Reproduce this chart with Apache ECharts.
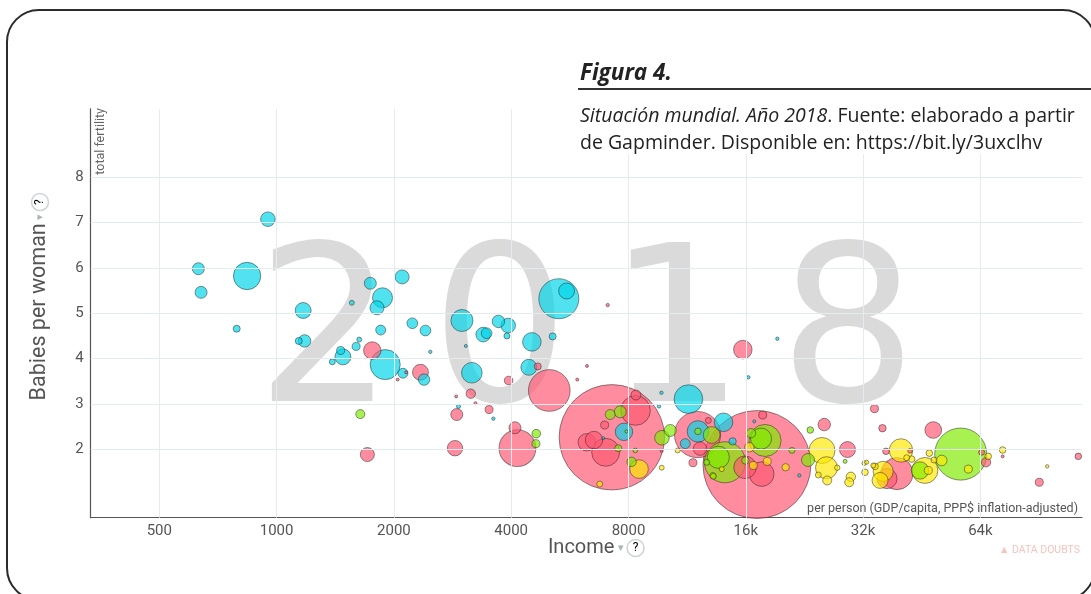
<!DOCTYPE html>
<html><head><meta charset="utf-8">
<script src="https://cdn.jsdelivr.net/npm/echarts@6/dist/echarts.min.js"></script>
<style>html,body{margin:0;padding:0;background:#fff}#c{width:1091px;height:594px}</style>
</head><body><div id="c"></div>
<script>
// ---- axis ticks ----
const xTickValues = [500, 1000, 2000, 4000, 8000, 16000, 32000, 64000];
const xTickLabels = ['500', '1000', '2000', '4000', '8000', '16k', '32k', '64k'];
const yTickValues = [2, 3, 4, 5, 6, 7, 8];
const yearLabel = '2018';

// ---- Africa (cyan) : income, babies per woman, population (millions) ----
const africaIncome = [950, 630, 840, 640, 790, 1170, 1180, 1140, 1560, 1740, 1870, 1810, 2100, 2230, 2410, 2480, 1850, 1630, 1600, 1900, 1480, 1460, 1390, 2110, 2390, 2990, 3710, 3930, 3390, 3460, 3900, 3060, 4520, 5110, 3170, 4440, 2930, 3600, 5300, 5550, 7790, 6890, 11400, 9720, 9580, 12060, 14030, 11190, 14800, 16820, 19280, 16240, 21950];
const africaFertility = [7.07, 5.98, 5.82, 5.46, 4.66, 5.06, 4.39, 4.39, 5.23, 5.66, 5.34, 5.12, 5.80, 4.78, 4.62, 4.15, 4.63, 4.42, 4.27, 3.87, 4.04, 4.18, 3.93, 3.68, 3.54, 4.84, 4.82, 4.73, 4.53, 4.56, 4.50, 4.28, 4.37, 4.49, 3.69, 3.81, 2.95, 2.68, 5.32, 5.49, 2.39, 2.25, 3.11, 3.25, 2.95, 2.40, 2.60, 2.13, 2.18, 2.62, 4.44, 3.59, 1.43];
const africaPopulation = [26, 17.5, 91, 17.5, 6, 31, 19, 6, 3, 17.5, 49, 24, 24, 14, 14, 1.4, 12, 3, 7.8, 110, 31, 7.8, 4.4, 12, 16, 59, 19, 26, 26, 14, 4.4, 1, 42, 6, 52, 31, 2, 1.4, 195, 31, 37, 1, 100, 1.4, 1.4, 56, 42, 12, 6.7, 1.1, 1.4, 1.4, 1.4];

// ---- Asia (pink) ----
const asiaIncome = [17090, 7250, 1760, 2340, 2150, 2045, 1710, 2870, 7075, 6260, 4680, 3940, 5910, 5010, 3150, 2890, 3240, 3510, 2900, 4090, 4150, 8340, 8360, 6950, 6250, 6525, 6990, 9735, 12030, 12210, 12820, 11710, 15720, 17680, 15930, 17580, 25440, 29180, 34230, 35880, 36630, 39100, 36860, 48440, 42220, 64480, 66170, 73000, 90640, 114150];
const asiaFertility = [1.67, 2.27, 4.18, 3.70, 3.70, 3.54, 1.89, 2.03, 5.18, 3.84, 3.83, 3.52, 3.54, 3.30, 3.23, 3.17, 3.02, 2.88, 2.77, 2.48, 2.03, 2.86, 3.20, 2.54, 2.16, 2.21, 1.94, 1.97, 2.33, 2.02, 2.64, 1.71, 4.20, 2.76, 1.61, 1.46, 2.55, 2.00, 2.90, 2.47, 1.96, 1.47, 1.36, 2.43, 1.97, 1.94, 1.72, 1.85, 1.28, 1.85];
const asiaPopulation = [1420, 1353, 37, 31, 1, 1, 24, 29, 1.4, 1, 6, 9, 1, 212, 10.8, 1, 1, 7.8, 17.5, 17.5, 165, 107, 12, 7.8, 37, 37, 95, 1, 260, 22, 4.4, 7.8, 42, 7.8, 62, 74, 19, 31, 7.8, 6.7, 5.3, 125, 49, 34, 2.6, 4.4, 10.8, 1, 7.8, 5.3];

// ---- Europe (yellow) ----
const europeIncome = [8515, 6750, 9735, 10700, 16340, 16730, 18160, 20250, 13880, 25100, 25780, 25890, 24560, 27470, 29760, 29480, 32220, 32690, 32360, 34330, 36030, 35370, 40030, 46110, 47040, 50920, 48640, 41410, 42640, 47320, 59600, 67040, 73000, 95000, 33990, 13160];
const europeFertility = [1.57, 1.24, 1.60, 1.98, 2.05, 1.65, 1.74, 1.61, 1.57, 1.98, 1.60, 1.32, 1.44, 1.60, 1.40, 1.28, 1.70, 1.72, 1.50, 1.63, 1.52, 1.32, 1.98, 1.54, 1.54, 1.76, 1.77, 1.82, 1.79, 1.92, 1.57, 1.85, 1.99, 1.63, 1.65, 1.43];
const europePopulation = [42, 4.4, 3, 3, 10.8, 7.8, 7.8, 6.7, 3, 82, 59, 9.9, 4.4, 3.5, 10.8, 9.9, 2.6, 2, 5.3, 5.3, 49, 31, 67, 82, 7.8, 13.7, 4.4, 4.4, 5.3, 5.3, 7.8, 5.3, 5.3, 1.4, 3, 4.4];

// ---- Americas (green) ----
const americasIncome = [1640, 4640, 4630, 7180, 7620, 7530, 8330, 8150, 7900, 9750, 10240, 12060, 13080, 14150, 13600, 17930, 17510, 16500, 15960, 12700, 13210, 21020, 23110, 23420, 28770, 44790, 56970];
const americasFertility = [2.78, 2.35, 2.13, 2.77, 2.83, 2.03, 1.98, 1.73, 2.40, 2.26, 2.42, 2.40, 2.32, 1.72, 1.83, 2.20, 2.24, 2.36, 1.76, 1.72, 1.41, 1.98, 1.77, 2.43, 1.74, 1.54, 1.90];
const americasPopulation = [9.9, 9, 7.8, 12, 17.5, 6, 2.6, 10.8, 1, 26, 17.5, 5.3, 34, 205, 60, 125, 54, 10.8, 6.7, 4.4, 4.4, 4.4, 20.6, 5.3, 2, 37, 330];

const regions = [
  {color: 'rgba(0,213,233,0.85)', inc: africaIncome, fert: africaFertility, pop: africaPopulation},
  {color: 'rgba(255,88,114,0.85)', inc: asiaIncome, fert: asiaFertility, pop: asiaPopulation},
  {color: 'rgba(255,231,0,0.85)', inc: europeIncome, fert: europeFertility, pop: europePopulation},
  {color: 'rgba(127,235,0,0.85)', inc: americasIncome, fert: americasFertility, pop: americasPopulation}
];
const bubbles = [];
regions.forEach(r => r.inc.forEach((v, i) => bubbles.push({value: [v, r.fert[i], r.pop[i]], itemStyle: {color: r.color}})));
bubbles.sort((a, b) => b.value[2] - a.value[2]);

const tickFont = {color: '#555', fontSize: 15, fontFamily: 'Roboto'};
const gridLines = [];
xTickValues.forEach((v, i) => gridLines.push({xAxis: v, name: xTickLabels[i],
  label: Object.assign({show: true, position: 'start', distance: 6, formatter: '{b}'}, tickFont)}));
yTickValues.forEach(v => gridLines.push({yAxis: v, name: String(v),
  label: Object.assign({show: true, position: 'start', distance: 7, formatter: '{b}'}, tickFont)}));

const qBox = {width: 17, height: 17, lineHeight: 17, borderRadius: 9, borderWidth: 1.5, borderColor: '#cdd3d6', color: '#c0c6c9', fontSize: 12, align: 'center', fontFamily: 'Roboto'};
const digitX = [325, 500, 676, 848];

const chart = echarts.init(document.getElementById('c'));
chart.setOption({
  animation: false,
  grid: {left: 90.7, right: 9, top: 108.8, bottom: 76.3},
  xAxis: {type: 'log', logBase: 2, min: 333.4, max: 116660,
    axisLine: {onZero: false, lineStyle: {color: '#555', width: 1.2}},
    axisTick: {show: false}, axisLabel: {show: false}, splitLine: {show: false}},
  yAxis: {type: 'value', min: 0.5, max: 9.5,
    axisLine: {show: true, onZero: false, lineStyle: {color: '#555', width: 1.2}},
    axisTick: {show: false}, axisLabel: {show: false}, splitLine: {show: false}},
  series: [
    {type: 'scatter', data: [], z: 1, silent: true,
      markLine: {silent: true, symbol: ['none', 'none'], animation: false,
        lineStyle: {color: '#e5ecef', type: 'solid', width: 1}, emphasis: {disabled: true},
        data: gridLines}},
    {type: 'scatter', z: 3, data: bubbles,
      symbolSize: v => Math.max(3, 2 * 1.433 * Math.sqrt(v[2])),
      itemStyle: {borderColor: 'rgba(30,30,30,0.6)', borderWidth: 1},
      emphasis: {disabled: true}}
  ],
  graphic: [].concat(
    yearLabel.split('').map((d, i) => ({type: 'text', x: digitX[i], y: 345, z: 0, silent: true,
      style: {text: d, fontSize: 217, fontFamily: 'DejaVu Sans', fill: '#dadada', align: 'center', verticalAlign: 'middle'}})),
    [
      {type: 'rect', z: 50, silent: true, shape: {x: 572, y: 50, width: 522, height: 104}, style: {fill: '#fff'}},
      {type: 'text', z: 51, x: 580, y: 74, silent: true,
        style: {text: 'Figura 4.', fontSize: 22.5, fontStyle: 'italic', fontWeight: 'bold', fontFamily: 'Open Sans', fill: '#222', verticalAlign: 'middle'}},
      {type: 'line', z: 51, silent: true, shape: {x1: 578, y1: 89, x2: 1091, y2: 89}, style: {stroke: '#333', lineWidth: 2}},
      {type: 'text', z: 51, x: 580, y: 116, silent: true,
        style: {text: '{i|Situación mundial. Año 2018}. Fuente: elaborado a partir', fontSize: 19.5, fontFamily: 'Open Sans', fill: '#222', verticalAlign: 'middle',
          rich: {i: {fontStyle: 'italic', fontSize: 19.5, fontFamily: 'Open Sans', fill: '#222'}}}},
      {type: 'text', z: 51, x: 580, y: 143, silent: true,
        style: {text: 'de Gapminder. Disponible en: https://bit.ly/3uxclhv', fontSize: 19.5, fontFamily: 'Open Sans', fill: '#222', verticalAlign: 'middle'}},
      {type: 'text', z: 60, x: 40, y: 297, rotation: Math.PI / 2, silent: true,
        style: {text: '{t|Babies per woman} {a|▾} {q|?}', align: 'center', verticalAlign: 'middle',
          rich: {t: {fontSize: 21.5, fontFamily: 'Roboto', fill: '#555'}, a: {fontSize: 11, fill: '#aab4b8'}, q: qBox}}},
      {type: 'text', z: 60, x: 596, y: 548, silent: true,
        style: {text: '{t|Income} {a|▾} {q|?}', align: 'center', verticalAlign: 'middle',
          rich: {t: {fontSize: 20, fontFamily: 'Roboto', fill: '#555'}, a: {fontSize: 11, fill: '#aab4b8'}, q: qBox}}},
      {type: 'text', z: 60, x: 101, y: 108, rotation: Math.PI / 2, silent: true,
        style: {text: 'total fertility', fontSize: 12.5, fontFamily: 'Roboto', fill: '#666', align: 'right', verticalAlign: 'middle'}},
      {type: 'text', z: 60, x: 1078, y: 509, silent: true,
        style: {text: 'per person (GDP/capita, PPP$ inflation-adjusted)', fontSize: 12.5, fontFamily: 'Roboto', fill: '#555', align: 'right', verticalAlign: 'middle'}},
      {type: 'text', z: 60, x: 1080, y: 550, silent: true,
        style: {text: '▲ DATA DOUBTS', fontSize: 10.5, fontFamily: 'Roboto', fill: '#f6c4bd', align: 'right', verticalAlign: 'middle'}},
      {type: 'rect', z: 100, silent: true, shape: {x: 7, y: 10, width: 1088, height: 590, r: 32}, style: {fill: null, stroke: '#2b2b2b', lineWidth: 2}}
    ])
});
</script></body></html>
